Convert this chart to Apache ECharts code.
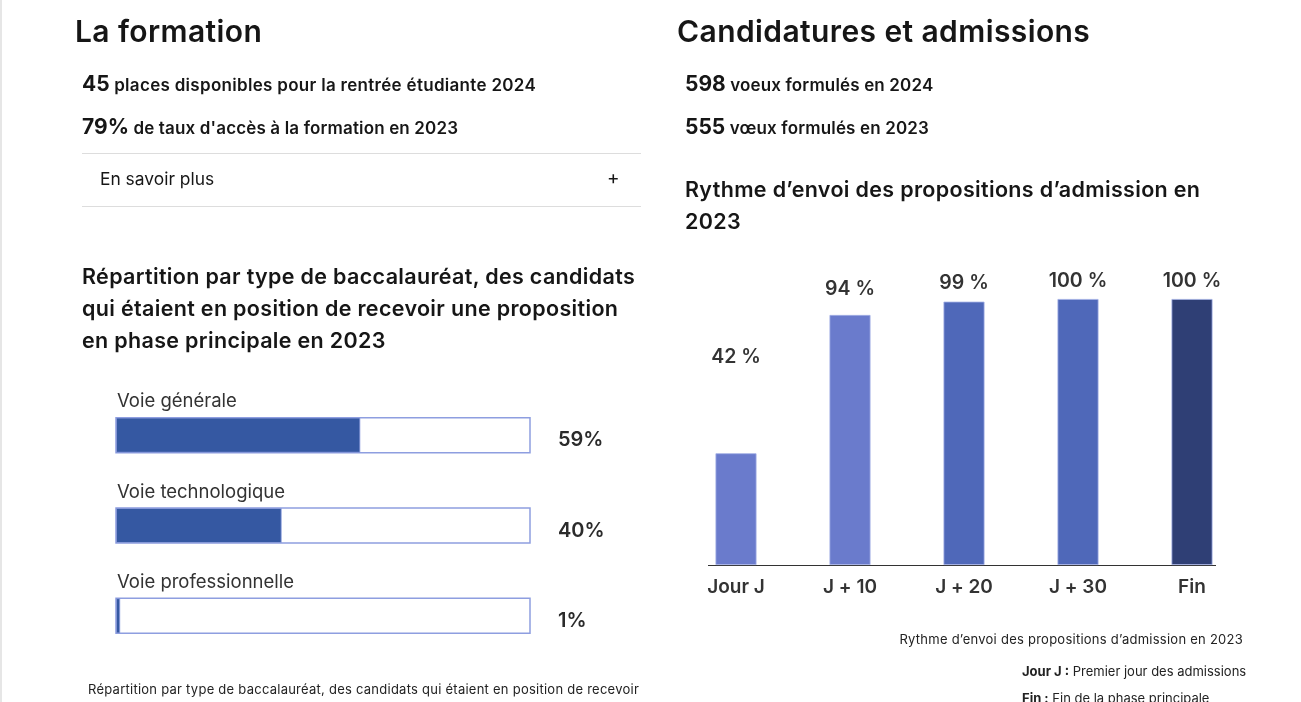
<!DOCTYPE html>
<html lang="fr">
<head>
<meta charset="utf-8">
<script src="https://cdn.jsdelivr.net/npm/echarts@6/dist/echarts.min.js"></script>
<style>
  html, body { margin: 0; padding: 0; background: #fff; }
  body { width: 1301px; height: 702px; position: relative; overflow: hidden; font-family: Inter, Lato, "Noto Sans", sans-serif; color: #161616; }
  .edge { position: absolute; left: 0; top: 0; width: 2px; height: 702px; background: #e6e6e6; }
  .abs { position: absolute; white-space: nowrap; }
  .h1 { font-size: 30px; font-weight: 600; line-height: 36px; letter-spacing: 0.4px; }
  .kpi { font-size: 17px; font-weight: 600; line-height: 24px; letter-spacing: 0.15px; }
  .kpi b { font-size: 21px; font-weight: 700; letter-spacing: 0; }
  .h3 { font-size: 21.5px; font-weight: 600; line-height: 32px; color: #161616; letter-spacing: 0.33px; }
  .rule { position: absolute; height: 1px; background: #dddddd; }
  .more { font-size: 17.4px; font-weight: 400; line-height: 24px; color: #161616; }
  .cap { font-size: 13px; line-height: 18px; color: #222; font-weight: 400; letter-spacing: 0.25px; }
  .cap b { font-weight: 700; }
  #left, #right { position: absolute; left: 0; top: 0; width: 1301px; height: 702px; }
</style>
</head>
<body>
<div class="edge"></div>
<div id="left"></div>
<div id="right"></div>

<div class="abs h1" style="left:75px; top:13px;">La formation</div>
<div class="abs kpi" style="left:82px; top:72px; letter-spacing:0.3px;"><b>45</b> places disponibles pour la rentrée étudiante 2024</div>
<div class="abs kpi" style="left:82px; top:115px;"><b>79%</b> de taux d'accès à la formation en 2023</div>
<div class="rule" style="left:82px; top:153px; width:559px;"></div>
<div class="abs more" style="left:100px; top:167px;">En savoir plus</div>
<div class="abs more" style="left:607px; top:166px; font-size:19px;">+</div>
<div class="rule" style="left:82px; top:206px; width:559px;"></div>
<div class="abs h3" style="left:82px; top:260px;">Répartition par type de baccalauréat, des candidats<br>qui étaient en position de recevoir une proposition<br>en phase principale en 2023</div>
<div class="abs cap" style="left:88px; top:680px;">Répartition par type de baccalauréat, des candidats qui étaient en position de recevoir</div>

<div class="abs h1" style="left:677px; top:13px;">Candidatures et admissions</div>
<div class="abs kpi" style="left:685px; top:72px;"><b>598</b> voeux formulés en 2024</div>
<div class="abs kpi" style="left:685px; top:115px;"><b>555</b> vœux formulés en 2023</div>
<div class="abs h3" style="left:685px; top:173px;">Rythme d’envoi des propositions d’admission en<br>2023</div>
<div class="abs cap" style="right:58px; top:630px;">Rythme d’envoi des propositions d’admission en 2023</div>
<div class="abs cap" style="left:1022px; top:662px; letter-spacing:0;"><b>Jour J :</b> Premier jour des admissions</div>
<div class="abs cap" style="left:1022px; top:689px; letter-spacing:0;"><b>Fin :</b> Fin de la phase principale</div>

<script>
// ---- Data: baccalauréat distribution ----
const bacCategories = ['Voie générale', 'Voie technologique', 'Voie professionnelle'];
const bacShares = [59, 40, 1];

// ---- Data: rythme d'envoi des propositions ----
const rythmeCategories = ['Jour J', 'J + 10', 'J + 20', 'J + 30', 'Fin'];
const rythmeValues = [42, 94, 99, 100, 100];

// ---- Styles (kept separate from data) ----
const rythmeColors = ['#6a7bcc', '#6a7bcc', '#4f68b9', '#4f68b9', '#2f3f75'];
const rythmeLabelGap = [86, 16, 9, 8, 8];

const FONT = 'Inter, Lato, "Noto Sans", sans-serif';

// Left chart: horizontal progress bars
const left = echarts.init(document.getElementById('left'), null, { renderer: 'canvas' });
left.setOption({
  animation: false,
  grid: { left: 116, top: 390, width: 414, height: 271 },
  xAxis: { type: 'value', min: 0, max: 100, show: false },
  yAxis: [
    {
      type: 'category', data: bacCategories, inverse: true,
      axisLine: { show: false }, axisTick: { show: false },
      axisLabel: {
        inside: true, align: 'left', verticalAlign: 'bottom',
        padding: [0, 0, 24, 1], margin: 0,
        fontFamily: FONT, fontSize: 18.5, color: '#333333'
      }
    },
    {
      type: 'category', data: bacCategories, inverse: true, position: 'right',
      axisLine: { show: false }, axisTick: { show: false },
      axisLabel: {
        margin: 28, align: 'left',
        formatter: (v, i) => '{p|' + bacShares[i] + '%}',
        rich: {
          p: { padding: [10, 0, 0, 0], fontFamily: FONT, fontSize: 20, fontWeight: 600, color: '#2b2b2b' }
        }
      }
    }
  ],
  series: [{
    type: 'bar', data: bacShares, barWidth: 35,
    showBackground: true,
    backgroundStyle: { color: '#ffffff', borderColor: '#8e9ee0', borderWidth: 1.5 },
    itemStyle: { color: '#3558a2', borderColor: '#8e9ee0', borderWidth: 0.8 }
  }]
});

// Right chart: vertical bars
const right = echarts.init(document.getElementById('right'), null, { renderer: 'canvas' });
right.setOption({
  animation: false,
  grid: { left: 679, right: 52, top: 299, bottom: 137 },
  xAxis: {
    type: 'category', data: rythmeCategories,
    axisLine: { show: false }, axisTick: { show: false },
    axisLabel: { margin: 13, fontFamily: FONT, fontSize: 19, fontWeight: 600, color: '#333333' }
  },
  yAxis: { type: 'value', min: 0, max: 100, show: false },
  series: [{
    type: 'bar', barWidth: 41,
    data: rythmeValues.map((v, i) => ({
      value: v,
      itemStyle: { color: rythmeColors[i], borderColor: '#a3b0e6', borderWidth: 0.8 },
      label: { distance: rythmeLabelGap[i] }
    })),
    label: {
      show: true, position: 'top',
      fontFamily: FONT, fontSize: 19.5, fontWeight: 600, color: '#333333',
      formatter: p => p.value + ' %'
    }
  }]
});
// baseline rule under the bars, derived from the axis scale
const first = right.convertToPixel({ xAxisIndex: 0 }, rythmeCategories[0]);
const last = right.convertToPixel({ xAxisIndex: 0 }, rythmeCategories[rythmeCategories.length - 1]);
const base = right.convertToPixel({ yAxisIndex: 0 }, 0);
right.setOption({
  graphic: [{
    type: 'line',
    shape: { x1: first - 28, y1: base + 0.5, x2: last + 24, y2: base + 0.5 },
    style: { stroke: '#333333', lineWidth: 1.2 }
  }]
});
</script>
</body>
</html>
